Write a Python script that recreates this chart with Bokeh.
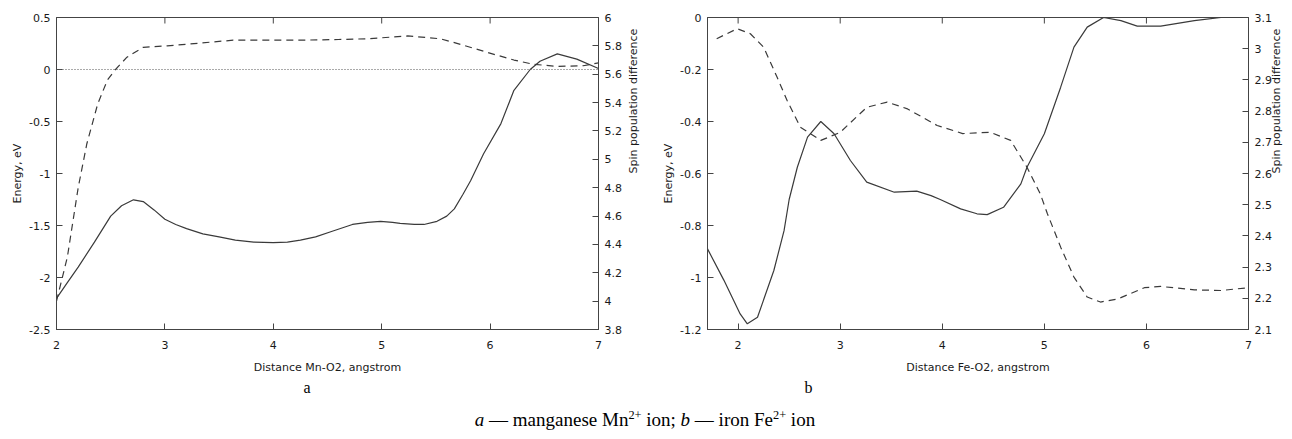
import math
from bokeh.plotting import figure
from bokeh.models import LinearAxis, Range1d, FixedTicker, Span, Title, Div
from bokeh.layouts import row, column
from bokeh.embed import file_html
from bokeh.resources import INLINE

# ---------------- data: panel a (Mn) ----------------
a_x_energy = [2.0, 2.1, 2.2, 2.35, 2.5, 2.6, 2.71, 2.8, 2.9, 3.0, 3.1, 3.2, 3.35, 3.5, 3.65,
              3.82, 4.0, 4.13, 4.25, 4.39, 4.53, 4.73, 4.87, 4.99, 5.1, 5.17, 5.3, 5.39, 5.51,
              5.6, 5.67, 5.75, 5.82, 5.94, 6.1, 6.22, 6.37, 6.46, 6.62, 6.8, 7.0]
a_energy = [-2.2, -2.05, -1.9, -1.66, -1.41, -1.31, -1.253, -1.27, -1.35, -1.44, -1.49, -1.53,
            -1.58, -1.61, -1.64, -1.66, -1.665, -1.66, -1.64, -1.61, -1.56, -1.49, -1.47, -1.46,
            -1.47, -1.48, -1.49, -1.49, -1.46, -1.41, -1.34, -1.2, -1.07, -0.81, -0.52, -0.2,
            0.0, 0.08, 0.15, 0.1, 0.01]
a_x_spin = [2.0, 2.1, 2.2, 2.28, 2.38, 2.47, 2.54, 2.65, 2.8, 3.02, 3.33, 3.63, 4.25, 4.6, 4.87,
            5.24, 5.54, 5.73, 5.97, 6.22, 6.4, 6.62, 6.86, 7.0]
a_spin = [4.0, 4.31, 4.8, 5.11, 5.39, 5.56, 5.63, 5.72, 5.79, 5.8, 5.82, 5.84, 5.84, 5.845, 5.85,
          5.87, 5.85, 5.81, 5.755, 5.7, 5.67, 5.655, 5.66, 5.68]

# ---------------- data: panel b (Fe) ----------------
b_x_energy = [1.7, 1.86, 2.02, 2.09, 2.19, 2.35, 2.45, 2.5, 2.58, 2.68, 2.81, 2.94, 3.1, 3.26,
              3.53, 3.75, 3.89, 3.98, 4.18, 4.34, 4.44, 4.6, 4.77, 4.83, 5.0, 5.16, 5.29, 5.42,
              5.58, 5.75, 5.91, 6.14, 6.47, 6.73, 7.0]
b_energy = [-0.89, -1.01, -1.14, -1.178, -1.153, -0.973, -0.82, -0.7, -0.576, -0.46, -0.4,
            -0.447, -0.55, -0.633, -0.672, -0.668, -0.685, -0.7, -0.736, -0.755, -0.758, -0.73,
            -0.64, -0.576, -0.447, -0.268, -0.114, -0.037, 0.0, -0.012, -0.033, -0.033, -0.012,
            0.0, 0.0]
b_x_spin = [1.79, 1.99, 2.12, 2.25, 2.38, 2.48, 2.61, 2.81, 3.0, 3.26, 3.46, 3.66, 3.95, 4.2,
            4.47, 4.67, 4.83, 4.96, 5.03, 5.16, 5.29, 5.42, 5.55, 5.72, 5.98, 6.14, 6.47, 6.73, 7.0]
b_spin = [3.032, 3.064, 3.048, 3.005, 2.91, 2.834, 2.748, 2.706, 2.732, 2.812, 2.829, 2.807,
          2.754, 2.728, 2.732, 2.706, 2.62, 2.535, 2.471, 2.364, 2.268, 2.204, 2.188, 2.198,
          2.234, 2.238, 2.227, 2.225, 2.234]

# ---------------- ticks / labels ----------------
a_xticks = [2, 3, 4, 5, 6, 7]
a_yticks = [-2.5, -2, -1.5, -1, -0.5, 0, 0.5]
a_y2ticks = [3.8, 4, 4.2, 4.4, 4.6, 4.8, 5, 5.2, 5.4, 5.6, 5.8, 6]
b_xticks = [2, 3, 4, 5, 6, 7]
b_yticks = [-1.2, -1, -0.8, -0.6, -0.4, -0.2, 0]
b_y2ticks = [2.1, 2.2, 2.3, 2.4, 2.5, 2.6, 2.7, 2.8, 2.9, 3, 3.1]

a_xlabel = "Distance Mn-O2, angstrom"
b_xlabel = "Distance Fe-O2, angstrom"
ylabel = "Energy, eV"
y2label = "Spin population difference"
caption_html = ("<i>a</i> \u2014 manganese Mn<sup style='font-size:65%'>2+</sup> ion; "
                "<i>b</i> \u2014 iron Fe<sup style='font-size:65%'>2+</sup> ion")

FONT = "DejaVu Sans"
SERIF = "Liberation Serif"
AXC = "#444444"
LINEC = "#3a3a3a"
TXT = "#1a1a1a"


def fmt(v):
    s = ("%.2f" % v).rstrip("0").rstrip(".")
    return "0" if s == "-0" else s


def style_axis(ax, ticks):
    ax.ticker = FixedTicker(ticks=ticks)
    ax.major_label_overrides = {t: fmt(t) for t in ticks}
    ax.minor_tick_line_color = None
    ax.major_tick_in = 6
    ax.major_tick_out = 0
    ax.axis_line_color = AXC
    ax.major_tick_line_color = AXC
    ax.major_label_text_font = FONT
    ax.major_label_text_font_size = "11px"
    ax.major_label_text_color = TXT
    ax.axis_label_text_font = FONT
    ax.axis_label_text_font_size = "11px"
    ax.axis_label_text_font_style = "normal"
    ax.axis_label_text_color = TXT


def make_panel(width, bl, br, xr, yr, y2r, xticks, yticks, y2ticks, xlabel,
               xe, ye, xs, ys, sub, sub_offset, zero_line, y2_label_standoff):
    p = figure(width=width, height=398, output_backend="svg", toolbar_location=None,
               x_range=Range1d(*xr), y_range=Range1d(*yr),
               min_border_left=bl, min_border_right=br, min_border_top=17,
               min_border_bottom=69)
    p.grid.visible = False
    p.outline_line_color = AXC
    p.outline_line_width = 1
    p.background_fill_color = "white"
    p.border_fill_color = "white"
    p.extra_y_ranges = {"spin": Range1d(*y2r)}

    style_axis(p.xaxis[0], xticks)
    p.xaxis[0].axis_label = xlabel
    p.xaxis[0].major_label_standoff = 11
    p.xaxis[0].axis_label_standoff = 9
    style_axis(p.yaxis[0], yticks)
    p.yaxis[0].axis_label = ylabel
    p.yaxis[0].major_label_standoff = 6
    p.yaxis[0].axis_label_standoff = 2

    right = LinearAxis(y_range_name="spin")
    style_axis(right, y2ticks)
    right.major_label_standoff = 6
    right.axis_label = y2label
    right.axis_label_standoff = y2_label_standoff
    try:
        right.axis_label_orientation = math.pi / 2
    except Exception:
        pass
    p.add_layout(right, "right")

    # mirrored x ticks along the top edge (inward), at the x tick positions
    p.scatter([t for t in xticks], [yr[1]] * len(xticks), marker="dash", angle=math.pi / 2,
              size=12, line_color=AXC, line_width=1)

    if zero_line:
        p.add_layout(Span(location=0, dimension="width", line_color="#555555",
                          line_width=1, line_dash="1 2"))

    p.line(xe, ye, line_color=LINEC, line_width=1.2)
    p.line(xs, ys, line_color=LINEC, line_width=1.2, line_dash="7 5", y_range_name="spin")

    p.add_layout(Title(text=sub, align="left", offset=sub_offset, standoff=0,
                       text_font=SERIF, text_font_size="16px", text_font_style="normal",
                       text_color="#000000"), "below")
    return p


pa = make_panel(652, 56, 54, (2, 7), (-2.5, 0.5), (3.8, 6.0), a_xticks, a_yticks, a_y2ticks,
                a_xlabel, a_x_energy, a_energy, a_x_spin, a_spin, "a", 247, True, 9)
pb = make_panel(640, 55, 44, (1.7, 7), (-1.2, 0), (2.1, 3.1), b_xticks, b_yticks, b_y2ticks,
                b_xlabel, b_x_energy, b_energy, b_x_spin, b_spin, "b", 97, False, 2)

cap = Div(text=caption_html, width=1292, height=32,
          styles={"font-family": SERIF, "font-size": "19px", "text-align": "center",
                  "color": "#000000", "padding-top": "3px", "padding-right": "12px",
                  "box-sizing": "border-box"})

layout = column(row(pa, pb), cap)
open("out.html", "w").write(file_html(layout, INLINE))
